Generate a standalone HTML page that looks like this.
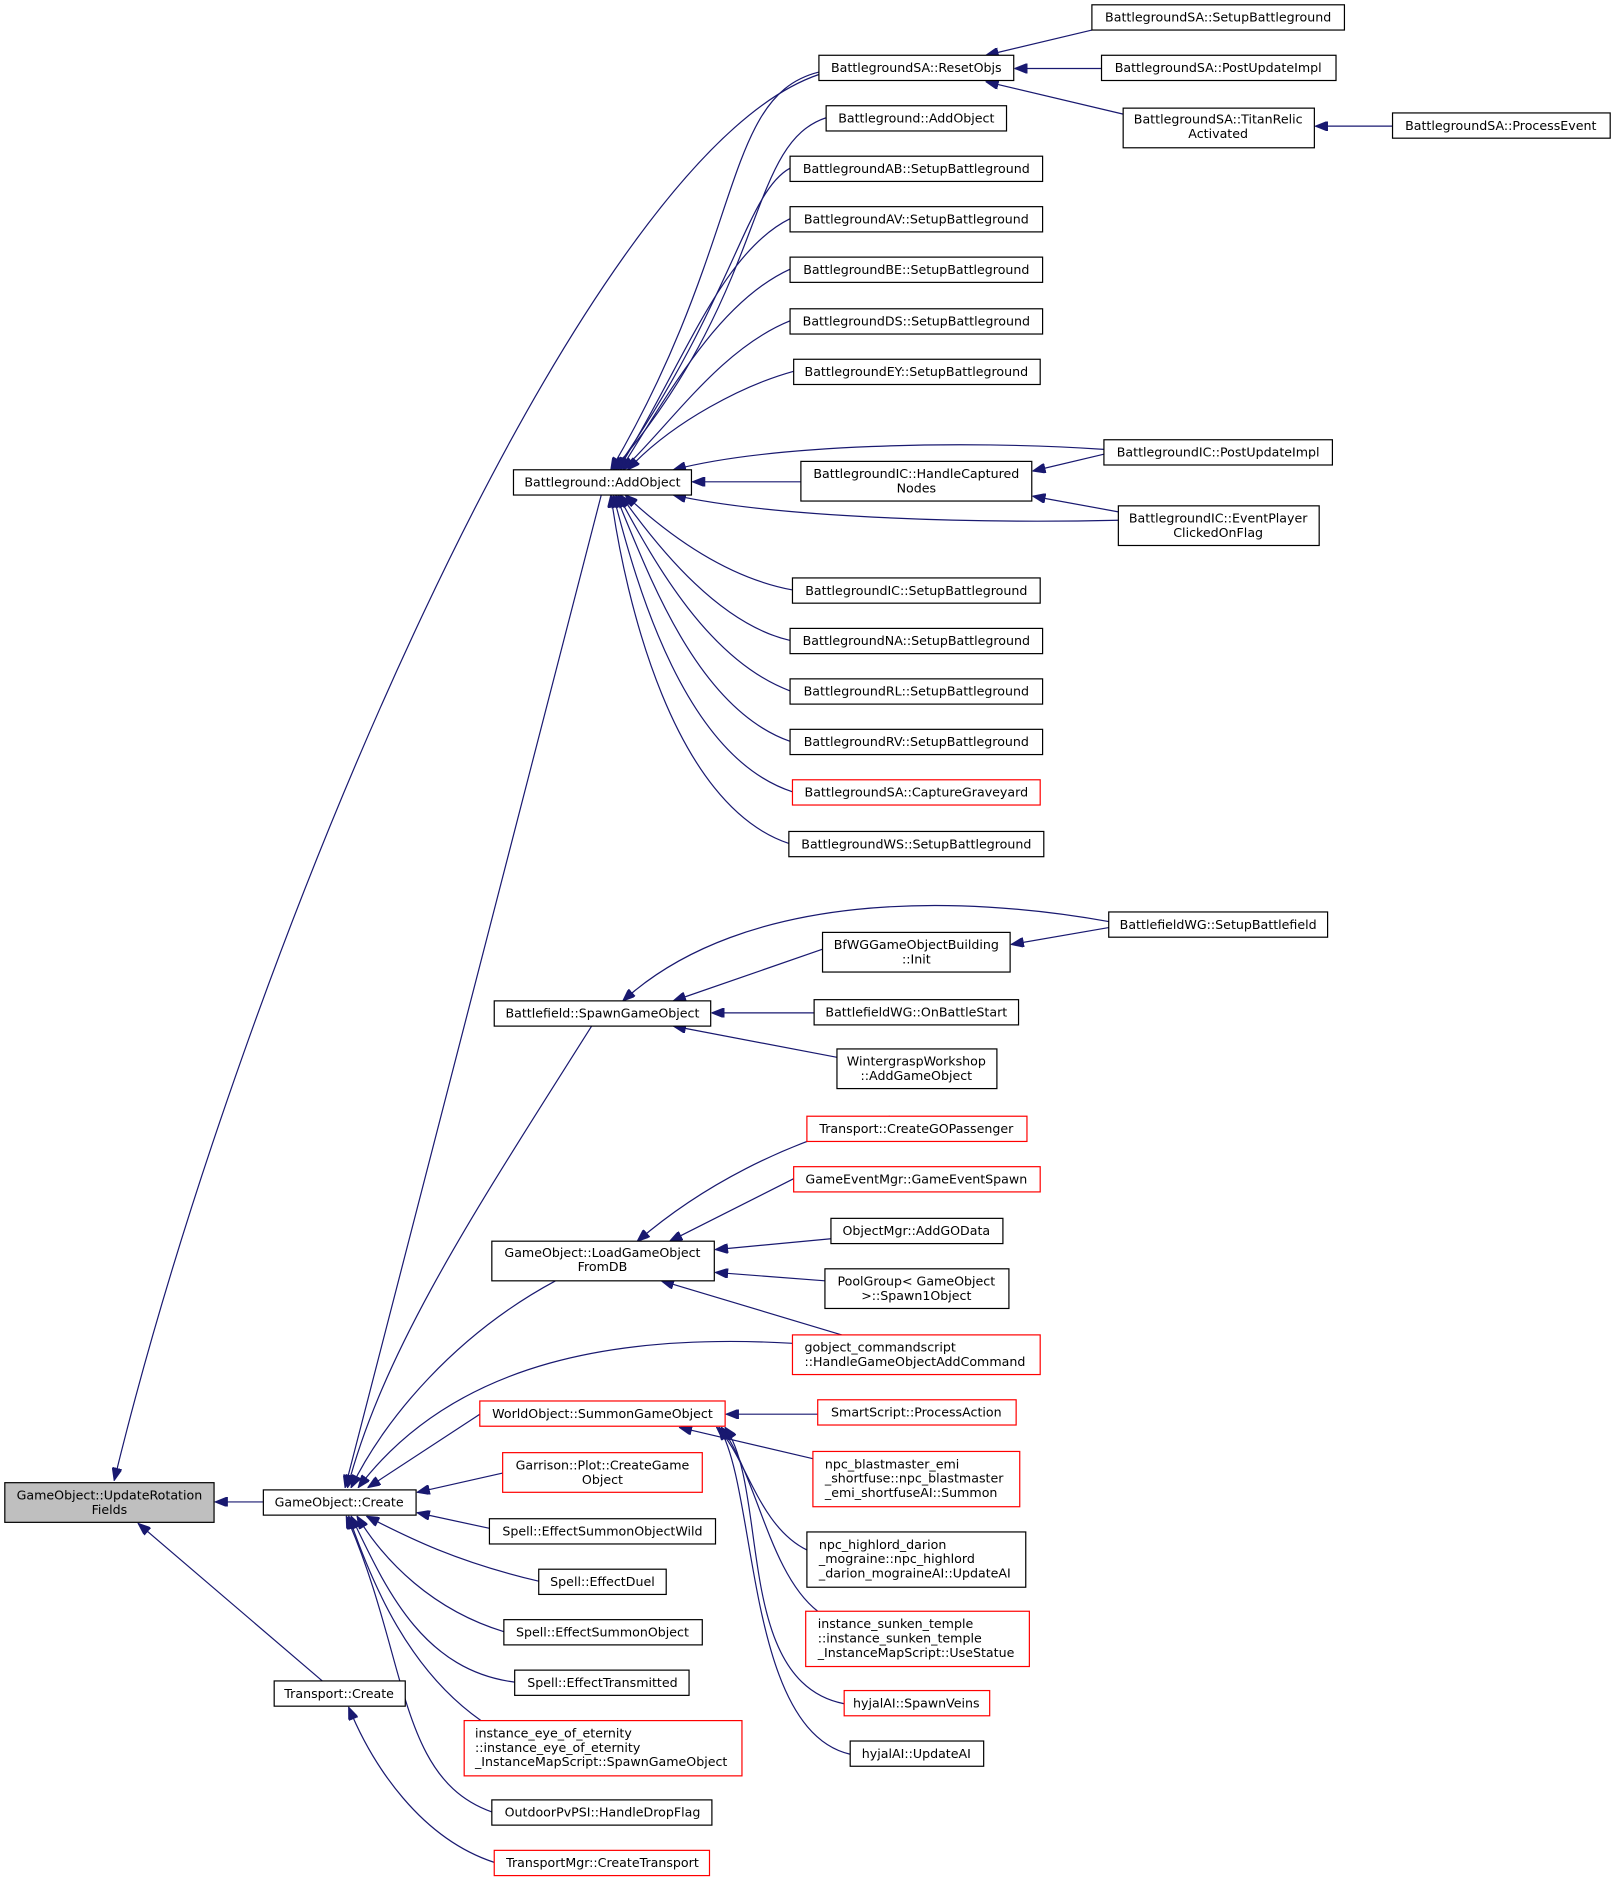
<!DOCTYPE html>
<html><head><meta charset="utf-8"><style>
html,body{margin:0;padding:0;background:#fff}
svg{display:block}
text{font-family:"DejaVu Sans","Liberation Sans",sans-serif;font-size:10.5px;fill:#000}
.b{fill:#fff;stroke:#000;stroke-width:1}
.r{fill:#fff;stroke:#f00;stroke-width:1}
.e{fill:none;stroke:#191970;stroke-width:1}
</style></head><body>
<svg width="1615" height="1884" viewBox="0 0 1343 1568" preserveAspectRatio="none" xmlns="http://www.w3.org/2000/svg">
<defs><marker id="a" viewBox="0 0 10 8" refX="10" refY="4" markerWidth="11" markerHeight="8" markerUnits="userSpaceOnUse" orient="auto"><path d="M0,0 L10,4 L0,8 z" fill="#191970" stroke="#191970"/></marker></defs>
<g class="e" marker-end="url(#a)">
<path d="M681,62 C480,130 200,800 95,1232"/>
<path d="M219,1250 L179,1250"/>
<path d="M268,1399 L115,1268"/>
<path d="M411,1550 C350,1530 310,1470 290,1421"/>
<path d="M500,412 L287,1238"/>
<path d="M492,854 C400,1000 320,1120 289,1238"/>
<path d="M462,1066 C380,1110 320,1180 292,1238"/>
<path d="M659,1118 C520,1110 380,1130 298,1238"/>
<path d="M399,1177 L306,1238"/>
<path d="M418,1226 L347,1242"/>
<path d="M407,1272 L347,1259"/>
<path d="M448,1316 C380,1300 340,1280 305,1262"/>
<path d="M419,1358 C360,1340 320,1300 297,1262"/>
<path d="M428,1400 C350,1390 320,1320 292,1262"/>
<path d="M400,1432 C340,1390 310,1320 290,1262"/>
<path d="M409,1508 C330,1480 340,1380 288,1262"/>
<path d="M681,60 C600,80 620,200 508,391"/>
<path d="M687,98 C620,120 640,240 510,391"/>
<path d="M657,140 C620,160 610,250 512,391"/>
<path d="M657,182 C600,210 570,300 514,391"/>
<path d="M657,224 C600,250 560,320 516,391"/>
<path d="M657,267 C600,290 560,350 518,391"/>
<path d="M660,309 C620,320 560,350 522,391"/>
<path d="M666,401 L576,401"/>
<path d="M918,374 C800,366 640,370 560,391"/>
<path d="M930,433 C800,436 640,430 560,412"/>
<path d="M659,491 C600,480 550,440 520,412"/>
<path d="M657,533 C600,520 550,460 516,412"/>
<path d="M657,575 C590,550 545,470 514,412"/>
<path d="M657,617 C580,590 540,480 512,412"/>
<path d="M659,659 C570,630 530,490 510,412"/>
<path d="M656,702 C560,670 520,500 508,412"/>
<path d="M908,25 L820,46"/>
<path d="M916,57 L844,57"/>
<path d="M934,95 L820,68"/>
<path d="M1158,105 L1094,105"/>
<path d="M918,378 L859,392"/>
<path d="M930,426 L859,413"/>
<path d="M922,767 C800,745 620,740 518,833"/>
<path d="M684,790 L560,833"/>
<path d="M677,843 L592,843"/>
<path d="M696,880 L560,854"/>
<path d="M922,772 L841,786"/>
<path d="M740,929 C650,950 580,990 530,1033"/>
<path d="M660,981 L557,1033"/>
<path d="M691,1031 L595,1040"/>
<path d="M686,1066 L595,1059"/>
<path d="M700,1111 L550,1066"/>
<path d="M680,1177 L604,1177"/>
<path d="M676,1214 L565,1188"/>
<path d="M671,1290 C630,1270 620,1210 596,1188"/>
<path d="M680,1341 C640,1310 630,1230 600,1188"/>
<path d="M702,1418 C610,1400 640,1240 603,1188"/>
<path d="M707,1460 C620,1440 630,1240 598,1188"/>
</g>
<rect x="4" y="1234" width="174" height="33" fill="#bfbfbf" stroke="#000"/>
<text x="91" y="1248" text-anchor="middle">GameObject::UpdateRotation</text><text x="91" y="1260" text-anchor="middle">Fields</text>
<g id="boxes"></g>
<rect class="b" x="219" y="1240" width="127" height="21"/><text x="282" y="1254" text-anchor="middle">GameObject::Create</text>
<rect class="b" x="228" y="1399" width="109" height="21"/><text x="282" y="1413" text-anchor="middle">Transport::Create</text>
<rect class="b" x="427" y="391" width="148" height="21"/><text x="501" y="405" text-anchor="middle">Battleground::AddObject</text>
<rect class="b" x="411" y="833" width="180" height="21"/><text x="501" y="847" text-anchor="middle">Battlefield::SpawnGameObject</text>
<rect class="b" x="409" y="1033" width="185" height="33"/><text x="501" y="1046" text-anchor="middle">GameObject::LoadGameObject</text><text x="501" y="1058" text-anchor="middle">FromDB</text>
<rect class="r" x="399" y="1166" width="204" height="21"/><text x="501" y="1180" text-anchor="middle">WorldObject::SummonGameObject</text>
<rect class="r" x="418" y="1209" width="166" height="33"/><text x="501" y="1223" text-anchor="middle">Garrison::Plot::CreateGame</text><text x="501" y="1235" text-anchor="middle">Object</text>
<rect class="b" x="407" y="1264" width="188" height="21"/><text x="501" y="1278" text-anchor="middle">Spell::EffectSummonObjectWild</text>
<rect class="b" x="448" y="1306" width="106" height="21"/><text x="501" y="1320" text-anchor="middle">Spell::EffectDuel</text>
<rect class="b" x="419" y="1348" width="165" height="21"/><text x="501" y="1362" text-anchor="middle">Spell::EffectSummonObject</text>
<rect class="b" x="428" y="1390" width="145" height="21"/><text x="501" y="1404" text-anchor="middle">Spell::EffectTransmitted</text>
<rect class="r" x="386" y="1432" width="231" height="46"/><text x="395" y="1446">instance_eye_of_eternity</text><text x="395" y="1458">::instance_eye_of_eternity</text><text x="395" y="1470">_InstanceMapScript::SpawnGameObject</text>
<rect class="b" x="409" y="1498" width="183" height="21"/><text x="501" y="1512" text-anchor="middle">OutdoorPvPSI::HandleDropFlag</text>
<rect class="r" x="411" y="1540" width="179" height="21"/><text x="501" y="1554" text-anchor="middle">TransportMgr::CreateTransport</text>

<rect class="b" x="681" y="46" width="162" height="21"/><text x="762" y="60" text-anchor="middle">BattlegroundSA::ResetObjs</text>
<rect class="b" x="687" y="88" width="150" height="21"/><text x="762" y="102" text-anchor="middle">Battleground::AddObject</text>
<rect class="b" x="657" y="130" width="210" height="21"/><text x="762" y="144" text-anchor="middle">BattlegroundAB::SetupBattleground</text>
<rect class="b" x="657" y="172" width="210" height="21"/><text x="762" y="186" text-anchor="middle">BattlegroundAV::SetupBattleground</text>
<rect class="b" x="657" y="214" width="210" height="21"/><text x="762" y="228" text-anchor="middle">BattlegroundBE::SetupBattleground</text>
<rect class="b" x="657" y="257" width="210" height="21"/><text x="762" y="271" text-anchor="middle">BattlegroundDS::SetupBattleground</text>
<rect class="b" x="660" y="299" width="205" height="21"/><text x="762" y="313" text-anchor="middle">BattlegroundEY::SetupBattleground</text>
<rect class="b" x="666" y="384" width="192" height="33"/><text x="762" y="398" text-anchor="middle">BattlegroundIC::HandleCaptured</text><text x="762" y="410" text-anchor="middle">Nodes</text>
<rect class="b" x="659" y="481" width="206" height="21"/><text x="762" y="495" text-anchor="middle">BattlegroundIC::SetupBattleground</text>
<rect class="b" x="657" y="523" width="210" height="21"/><text x="762" y="537" text-anchor="middle">BattlegroundNA::SetupBattleground</text>
<rect class="b" x="657" y="565" width="210" height="21"/><text x="762" y="579" text-anchor="middle">BattlegroundRL::SetupBattleground</text>
<rect class="b" x="657" y="607" width="210" height="21"/><text x="762" y="621" text-anchor="middle">BattlegroundRV::SetupBattleground</text>
<rect class="r" x="659" y="649" width="206" height="21"/><text x="762" y="663" text-anchor="middle">BattlegroundSA::CaptureGraveyard</text>
<rect class="b" x="656" y="692" width="212" height="21"/><text x="762" y="706" text-anchor="middle">BattlegroundWS::SetupBattleground</text>
<rect class="b" x="684" y="776" width="156" height="33"/><text x="762" y="790" text-anchor="middle">BfWGGameObjectBuilding</text><text x="762" y="802" text-anchor="middle">::Init</text>
<rect class="b" x="677" y="832" width="170" height="21"/><text x="762" y="846" text-anchor="middle">BattlefieldWG::OnBattleStart</text>
<rect class="b" x="696" y="873" width="133" height="33"/><text x="762" y="887" text-anchor="middle">WintergraspWorkshop</text><text x="762" y="899" text-anchor="middle">::AddGameObject</text>
<rect class="r" x="671" y="929" width="183" height="21"/><text x="762" y="943" text-anchor="middle">Transport::CreateGOPassenger</text>
<rect class="r" x="660" y="971" width="205" height="21"/><text x="762" y="985" text-anchor="middle">GameEventMgr::GameEventSpawn</text>
<rect class="b" x="691" y="1014" width="143" height="21"/><text x="762" y="1028" text-anchor="middle">ObjectMgr::AddGOData</text>
<rect class="b" x="686" y="1056" width="153" height="33"/><text x="762" y="1070" text-anchor="middle">PoolGroup&lt; GameObject</text><text x="762" y="1082" text-anchor="middle">&gt;::Spawn1Object</text>
<rect class="r" x="659" y="1111" width="206" height="33"/><text x="669" y="1125">gobject_commandscript</text><text x="669" y="1137">::HandleGameObjectAddCommand</text>
<rect class="r" x="680" y="1165" width="165" height="21"/><text x="762" y="1179" text-anchor="middle">SmartScript::ProcessAction</text>
<rect class="r" x="676" y="1208" width="172" height="46"/><text x="686" y="1222">npc_blastmaster_emi</text><text x="686" y="1234">_shortfuse::npc_blastmaster</text><text x="686" y="1246">_emi_shortfuseAI::Summon</text>
<rect class="b" x="671" y="1275" width="182" height="46"/><text x="681" y="1289">npc_highlord_darion</text><text x="681" y="1301">_mograine::npc_highlord</text><text x="681" y="1313">_darion_mograineAI::UpdateAI</text>
<rect class="r" x="670" y="1341" width="186" height="46"/><text x="680" y="1355">instance_sunken_temple</text><text x="680" y="1367">::instance_sunken_temple</text><text x="680" y="1379">_InstanceMapScript::UseStatue</text>
<rect class="r" x="702" y="1407" width="121" height="21"/><text x="762" y="1421" text-anchor="middle">hyjalAI::SpawnVeins</text>
<rect class="b" x="707" y="1449" width="111" height="21"/><text x="762" y="1463" text-anchor="middle">hyjalAI::UpdateAI</text>

<rect class="b" x="908" y="4" width="210" height="21"/><text x="1013" y="18" text-anchor="middle">BattlegroundSA::SetupBattleground</text>
<rect class="b" x="916" y="46" width="195" height="21"/><text x="1013" y="60" text-anchor="middle">BattlegroundSA::PostUpdateImpl</text>
<rect class="b" x="934" y="90" width="159" height="33"/><text x="1013" y="103" text-anchor="middle">BattlegroundSA::TitanRelic</text><text x="1013" y="115" text-anchor="middle">Activated</text>
<rect class="b" x="918" y="366" width="190" height="21"/><text x="1013" y="380" text-anchor="middle">BattlegroundIC::PostUpdateImpl</text>
<rect class="b" x="930" y="421" width="167" height="33"/><text x="1013" y="435" text-anchor="middle">BattlegroundIC::EventPlayer</text><text x="1013" y="447" text-anchor="middle">ClickedOnFlag</text>
<rect class="b" x="922" y="759" width="182" height="21"/><text x="1013" y="773" text-anchor="middle">BattlefieldWG::SetupBattlefield</text>
<rect class="b" x="1158" y="94" width="181" height="21"/><text x="1248" y="108" text-anchor="middle">BattlegroundSA::ProcessEvent</text>
</svg>
</body></html>
